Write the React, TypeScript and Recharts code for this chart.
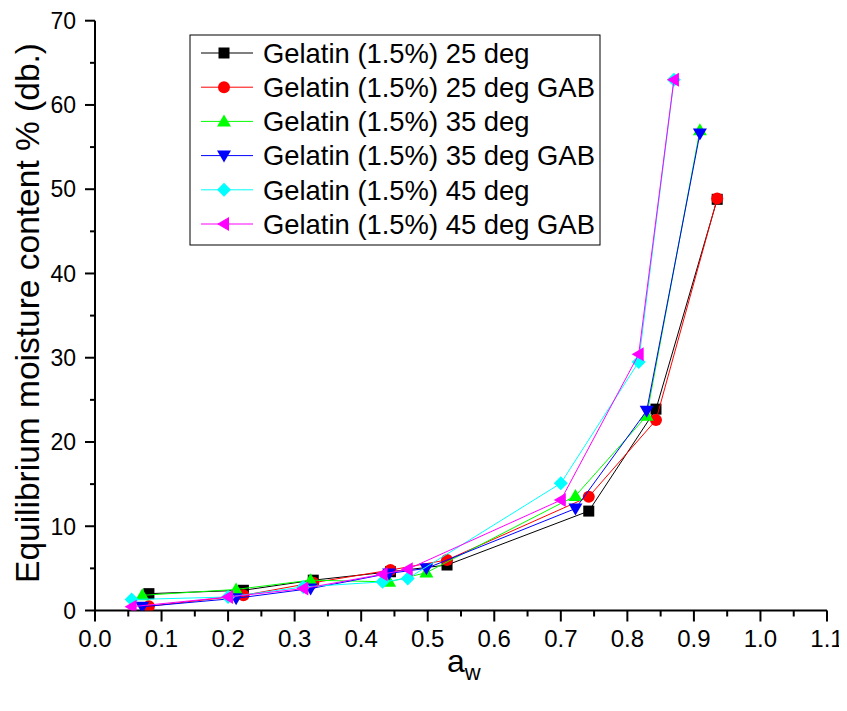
import React from "react";
import { ScatterChart, Scatter, XAxis, YAxis, Legend } from "recharts";

// a_w values and moisture contents
const aw25 = [0.081, 0.223, 0.328, 0.444, 0.529, 0.742, 0.843, 0.935];
const emc25 = [2.0, 2.4, 3.6, 4.6, 5.4, 11.8, 23.9, 48.8];
const emc25GAB = [0.5, 1.8, 3.3, 4.8, 6.0, 13.5, 22.6, 48.9];

const aw35 = [0.071, 0.212, 0.324, 0.442, 0.498, 0.722, 0.829, 0.909];
const emc35 = [1.8, 2.5, 3.6, 3.4, 4.5, 13.6, 23.1, 57.0];
const emc35GAB = [0.45, 1.45, 2.6, 4.4, 5.0, 12.1, 23.7, 56.6];

const aw45 = [0.055, 0.2, 0.313, 0.432, 0.47, 0.7, 0.817, 0.87];
const emc45 = [1.3, 1.6, 2.8, 3.4, 3.8, 15.1, 29.5, 63.0];
const emc45GAB = [0.45, 1.6, 2.6, 4.3, 4.9, 13.1, 30.4, 63.0];

const seriesNames = [
  "Gelatin (1.5%) 25 deg",
  "Gelatin (1.5%) 25 deg GAB",
  "Gelatin (1.5%) 35 deg",
  "Gelatin (1.5%) 35 deg GAB",
  "Gelatin (1.5%) 45 deg",
  "Gelatin (1.5%) 45 deg GAB",
];

const xTicks = [0, 0.05, 0.1, 0.15, 0.2, 0.25, 0.3, 0.35, 0.4, 0.45, 0.5, 0.55, 0.6, 0.65, 0.7, 0.75, 0.8, 0.85, 0.9, 0.95, 1.0, 1.05, 1.1];
const yTicks = [0, 5, 10, 15, 20, 25, 30, 35, 40, 45, 50, 55, 60, 65, 70];

const xTitle = "a";
const xTitleSub = "w";
const yTitle = "Equilibrium moisture content % (db.)";

const FONT = "'Liberation Sans', Arial, sans-serif";

const toPts = (xs: number[], ys: number[]) => xs.map((x, i) => ({ x, y: ys[i] }));

type Kind = "square" | "circle" | "up" | "down" | "diamond" | "left";

const series: { name: string; data: { x: number; y: number }[]; color: string; kind: Kind }[] = [
  { name: seriesNames[0], data: toPts(aw25, emc25), color: "#000000", kind: "square" },
  { name: seriesNames[1], data: toPts(aw25, emc25GAB), color: "#FF0000", kind: "circle" },
  { name: seriesNames[2], data: toPts(aw35, emc35), color: "#00FF00", kind: "up" },
  { name: seriesNames[3], data: toPts(aw35, emc35GAB), color: "#0000FF", kind: "down" },
  { name: seriesNames[4], data: toPts(aw45, emc45), color: "#00FFFF", kind: "diamond" },
  { name: seriesNames[5], data: toPts(aw45, emc45GAB), color: "#FF00FF", kind: "left" },
];

function Marker({ cx, cy, kind, color }: { cx: number; cy: number; kind: Kind; color: string }) {
  switch (kind) {
    case "square":
      return <rect x={cx - 5.5} y={cy - 5.5} width={11} height={11} fill={color} />;
    case "circle":
      return <circle cx={cx} cy={cy} r={6} fill={color} />;
    case "up":
      return <polygon points={`${cx},${cy - 7} ${cx + 7},${cy + 5} ${cx - 7},${cy + 5}`} fill={color} />;
    case "down":
      return <polygon points={`${cx},${cy + 7} ${cx + 7},${cy - 5} ${cx - 7},${cy - 5}`} fill={color} />;
    case "diamond":
      return <polygon points={`${cx},${cy - 7} ${cx + 7},${cy} ${cx},${cy + 7} ${cx - 7},${cy}`} fill={color} />;
    case "left":
      return <polygon points={`${cx - 7},${cy} ${cx + 5},${cy - 7} ${cx + 5},${cy + 7}`} fill={color} />;
  }
  return <circle cx={cx} cy={cy} r={6} fill={color} />;
}

const XTick = (props: any) => {
  const { x, y, payload, index } = props;
  const major = index % 2 === 0;
  return (
    <g>
      <line x1={x} x2={x} y1={y} y2={y + (major ? 11 : 6)} stroke="#000" strokeWidth={2} />
      {major && (
        <text x={x} y={y + 36} textAnchor="middle" fontSize={24} fontFamily={FONT} fill="#000">
          {Number(payload.value).toFixed(1)}
        </text>
      )}
    </g>
  );
};

const YTick = (props: any) => {
  const { x, y, payload, index } = props;
  const major = index % 2 === 0;
  return (
    <g>
      <line x1={x} x2={x - (major ? 10 : 5)} y1={y} y2={y} stroke="#000" strokeWidth={2} />
      {major && (
        <text x={x - 19} y={y} dy="0.36em" textAnchor="end" fontSize={23} fontFamily={FONT} fill="#000">
          {payload.value}
        </text>
      )}
    </g>
  );
};

const LegendBox = () => (
  <svg width={412} height={212} style={{ display: "block" }}>
    <rect x={1} y={1} width={410} height={210} fill="#fff" stroke="#000" strokeWidth={1} />
    {series.map((s, i) => {
      const cy = 19 + i * 34.2;
      return (
        <g key={s.name}>
          <line x1={12} x2={64} y1={cy} y2={cy} stroke={s.color} strokeWidth={1} />
          <Marker cx={35} cy={cy} kind={s.kind} color={s.color} />
          <text x={74} y={cy} dy="0.36em" fontSize={27.4} fontFamily={FONT} fill="#000">
            {s.name}
          </text>
        </g>
      );
    })}
  </svg>
);

export default function App() {
  return (
    <ScatterChart
      width={839}
      height={695}
      margin={{ top: 12.7, right: 20, bottom: 32.5, left: 27 }}
    >
      <XAxis
        type="number"
        dataKey="x"
        domain={[0, 1.1]}
        ticks={xTicks}
        interval={0}
        height={60}
        tickSize={0}
        tickMargin={0}
        tickLine={false}
        axisLine={{ stroke: "#000", strokeWidth: 2 }}
        tick={<XTick />}
        allowDataOverflow
        label={{
          content: () => (
            <text x={439} y={664} fontSize={32} fontFamily={FONT} fill="#000">
              {xTitle}
              <tspan fontSize={22} dy={8}>{xTitleSub}</tspan>
            </text>
          ),
        }}
      />
      <YAxis
        type="number"
        dataKey="y"
        domain={[0, 70]}
        ticks={yTicks}
        interval={0}
        width={60}
        tickSize={0}
        tickMargin={0}
        tickLine={false}
        axisLine={{ stroke: "#000", strokeWidth: 2 }}
        tick={<YTick />}
        allowDataOverflow
        label={{
          content: () => (
            <text
              x={31}
              y={305}
              transform="rotate(-90 31 305)"
              textAnchor="middle"
              fontSize={33.5}
              fontFamily={FONT}
              fill="#000"
            >
              {yTitle}
            </text>
          ),
        }}
      />
      <Legend
        layout="vertical"
        align="center"
        verticalAlign="middle"
        wrapperStyle={{ position: "absolute", left: 181, top: 26, width: 412, height: 212 }}
        content={() => <LegendBox />}
      />
      {series.map((s) => (
        <Scatter
          key={s.name}
          name={s.name}
          data={s.data}
          fill={s.color}
          line={{ stroke: s.color, strokeWidth: 1 }}
          lineJointType="linear"
          isAnimationActive={false}
          shape={(p: any) => <Marker cx={p.cx} cy={p.cy} kind={s.kind} color={s.color} />}
        />
      ))}
    </ScatterChart>
  );
}
